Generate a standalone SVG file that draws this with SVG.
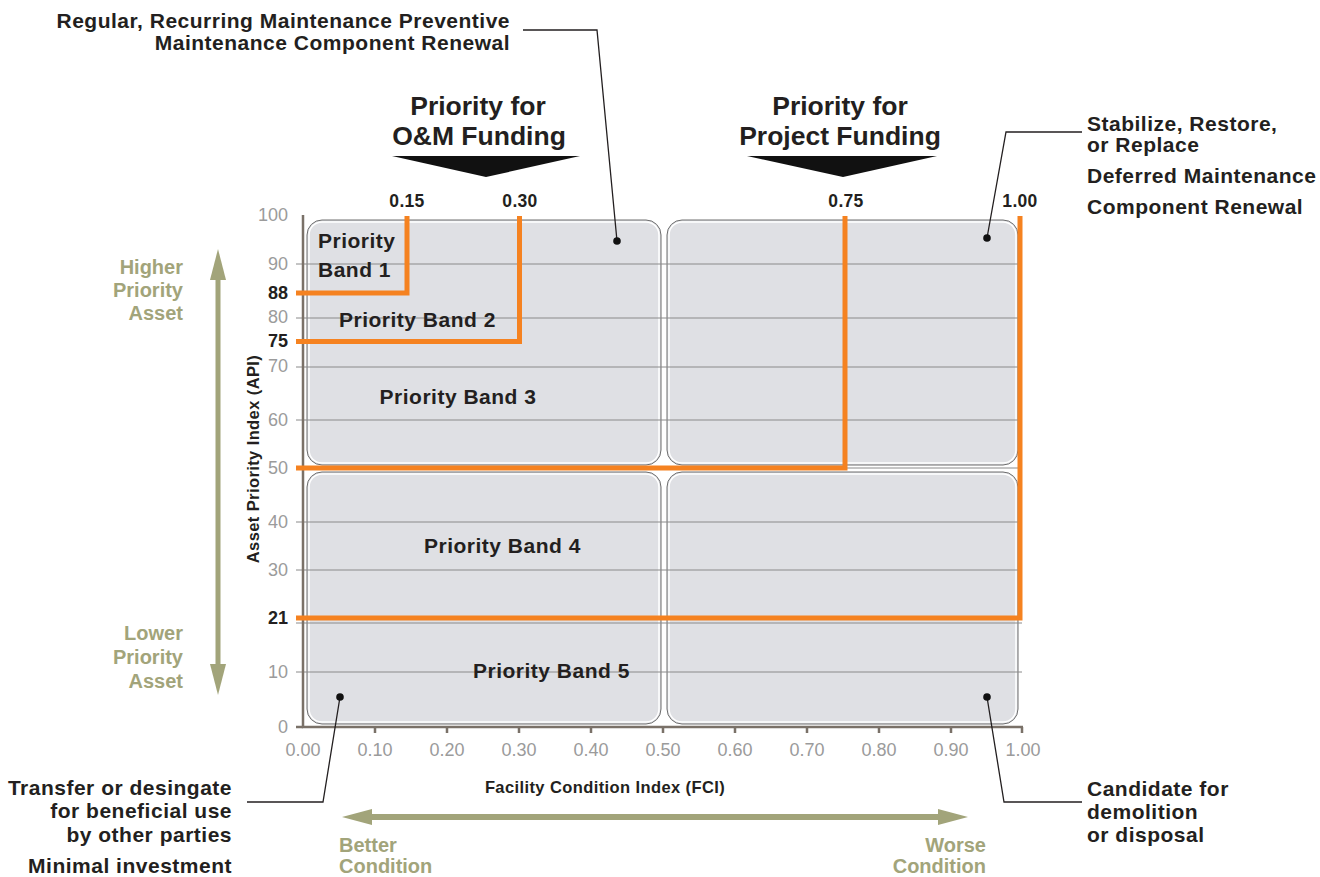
<svg xmlns="http://www.w3.org/2000/svg" width="1320" height="877" viewBox="0 0 1320 877">
<style>
text{font-family:"Liberation Sans",Arial,Helvetica,sans-serif}
.lbl{font-size:21px;font-weight:bold;fill:#231f20;letter-spacing:0.5px}
.head{font-size:26.5px;font-weight:bold;fill:#231f20;text-anchor:middle}
.grn{font-size:20px;font-weight:bold;fill:#a2a47a}
.tick{font-size:18px;fill:#9b9b9b;text-anchor:end}
.tickb{font-size:18px;font-weight:bold;fill:#231f20;text-anchor:end}
.xt{font-size:18px;fill:#9b9b9b;text-anchor:middle}
.top{font-size:17.5px;font-weight:bold;fill:#231f20;text-anchor:middle;letter-spacing:0.3px}
.ax{font-size:16.5px;font-weight:bold;fill:#231f20;letter-spacing:0.4px}
.panel{fill:#dfe0e4;stroke:#6e6e6e;stroke-width:1}
.pin{fill:none;stroke:#ffffff;stroke-width:1.5}
.grid{stroke:#8a8a8a;stroke-width:1;fill:none}
.org{stroke:#f58220;stroke-width:5;fill:none;stroke-linejoin:miter;stroke-linecap:butt}
.con{stroke:#231f20;stroke-width:1.3;fill:none}
.dot{fill:#111}
.axis{stroke:#7a7168;stroke-width:2.5;fill:none}
.green{fill:#a2a47a}
</style>

<g id="panels">
  <rect class="panel" x="307" y="220" width="354" height="245" rx="15"/>
  <rect class="pin" x="309" y="222" width="350" height="241" rx="13"/>
  <rect class="panel" x="667" y="220" width="351" height="245" rx="15"/>
  <rect class="pin" x="669" y="222" width="347" height="241" rx="13"/>
  <rect class="panel" x="307" y="472" width="354" height="252" rx="15"/>
  <rect class="pin" x="309" y="474" width="350" height="248" rx="13"/>
  <rect class="panel" x="667" y="472" width="351" height="252" rx="15"/>
  <rect class="pin" x="669" y="474" width="347" height="248" rx="13"/>
</g>

<g id="grid">
  <path class="grid" d="M296,264H1022M296,318H1022M296,367H1022M296,420H1022M296,468H1022M296,522H1022M296,570H1022M296,623H1022M296,672H1022"/>
</g>

<g id="axes">
  <path class="axis" d="M303,215V727H1023"/>
  <path class="axis" d="M296,727H303M375,727v6M447,727v6M519,727v6M591,727v6M663,727v6M735,727v6M807,727v6M879,727v6M951,727v6M1022,727v6" stroke-width="2"/>
</g>

<g id="priority-lines">
  <path class="org" d="M296,293H407V216"/>
  <path class="org" d="M296,341.5H519.5V216"/>
  <path class="org" d="M296,468H845V216"/>
  <path class="org" d="M296,618H1020V216"/>
</g>

<g id="y-labels">
  <text class="tick" x="288" y="221">100</text>
  <text class="tick" x="288" y="270">90</text>
  <text class="tickb" x="288" y="299">88</text>
  <text class="tick" x="288" y="323">80</text>
  <text class="tickb" x="288" y="347">75</text>
  <text class="tick" x="288" y="372">70</text>
  <text class="tick" x="288" y="426">60</text>
  <text class="tick" x="288" y="474">50</text>
  <text class="tick" x="288" y="528">40</text>
  <text class="tick" x="288" y="576">30</text>
  <text class="tickb" x="288" y="624">21</text>
  <text class="tick" x="288" y="678">10</text>
  <text class="tick" x="288" y="733">0</text>
</g>

<g id="x-labels">
  <text class="xt" x="303" y="756">0.00</text>
  <text class="xt" x="375" y="756">0.10</text>
  <text class="xt" x="447" y="756">0.20</text>
  <text class="xt" x="519" y="756">0.30</text>
  <text class="xt" x="591" y="756">0.40</text>
  <text class="xt" x="663" y="756">0.50</text>
  <text class="xt" x="735" y="756">0.60</text>
  <text class="xt" x="807" y="756">0.70</text>
  <text class="xt" x="879" y="756">0.80</text>
  <text class="xt" x="951" y="756">0.90</text>
  <text class="xt" x="1023" y="756">1.00</text>
</g>

<g id="top-values">
  <text class="top" x="407" y="207">0.15</text>
  <text class="top" x="520" y="207">0.30</text>
  <text class="top" x="846" y="207">0.75</text>
  <text class="top" x="1020" y="207">1.00</text>
</g>

<g id="axis-titles">
  <text class="ax" x="605" y="793" text-anchor="middle">Facility Condition Index (FCI)</text>
  <text class="ax" transform="translate(259,459) rotate(-90)" text-anchor="middle">Asset Priority Index (API)</text>
</g>

<g id="bands">
  <text class="lbl" x="318" y="248">Priority</text>
  <text class="lbl" x="318" y="277">Band 1</text>
  <text class="lbl" x="339" y="327">Priority Band 2</text>
  <text class="lbl" x="458" y="404" text-anchor="middle">Priority Band 3</text>
  <text class="lbl" x="424" y="553">Priority Band 4</text>
  <text class="lbl" x="473" y="678">Priority Band 5</text>
</g>

<g id="funding-om">
  <text class="head" x="478" y="115">Priority for</text>
  <text class="head" x="479" y="145">O&amp;M Funding</text>
  <polygon points="392,156 580,156 486,177" fill="#111"/>
</g>
<g id="funding-project">
  <text class="head" x="840" y="115">Priority for</text>
  <text class="head" x="840" y="145">Project Funding</text>
  <polygon points="747,156 937,156 843,177" fill="#111"/>
</g>

<g id="priority-arrow">
  <rect class="green" x="215.5" y="275" width="5" height="393"/>
  <polygon class="green" points="218,249 210,280 226,280"/>
  <polygon class="green" points="218,695 210,664 226,664"/>
  <text class="grn" x="183" y="274" text-anchor="end">Higher</text>
  <text class="grn" x="183" y="297" text-anchor="end">Priority</text>
  <text class="grn" x="183" y="320" text-anchor="end">Asset</text>
  <text class="grn" x="183" y="640" text-anchor="end">Lower</text>
  <text class="grn" x="183" y="664" text-anchor="end">Priority</text>
  <text class="grn" x="183" y="688" text-anchor="end">Asset</text>
</g>

<g id="condition-arrow">
  <rect class="green" x="370" y="814" width="570" height="6"/>
  <polygon class="green" points="342,817 372,809 372,825"/>
  <polygon class="green" points="968,817 938,809 938,825"/>
  <text class="grn" x="339" y="852">Better</text>
  <text class="grn" x="339" y="873">Condition</text>
  <text class="grn" x="986" y="852" text-anchor="end">Worse</text>
  <text class="grn" x="986" y="873" text-anchor="end">Condition</text>
</g>

<g id="note-om">
  <text class="lbl" x="510" y="28" text-anchor="end">Regular, Recurring Maintenance Preventive</text>
  <text class="lbl" x="510" y="50" text-anchor="end">Maintenance Component Renewal</text>
</g>
<g id="note-project">
  <text class="lbl" x="1087" y="131">Stabilize, Restore,</text>
  <text class="lbl" x="1087" y="152">or Replace</text>
  <text class="lbl" x="1087" y="183">Deferred Maintenance</text>
  <text class="lbl" x="1087" y="214">Component Renewal</text>
</g>
<g id="note-transfer">
  <text class="lbl" x="232" y="795" text-anchor="end">Transfer or desingate</text>
  <text class="lbl" x="232" y="818" text-anchor="end">for beneficial use</text>
  <text class="lbl" x="232" y="842" text-anchor="end">by other parties</text>
  <text class="lbl" x="232" y="873" text-anchor="end">Minimal investment</text>
</g>
<g id="note-demolition">
  <text class="lbl" x="1087" y="796">Candidate for</text>
  <text class="lbl" x="1087" y="819">demolition</text>
  <text class="lbl" x="1087" y="842">or disposal</text>
</g>

<g id="connectors">
  <path class="con" d="M523,30H597L617,241"/>
  <path class="con" d="M1082,132H1006L987,238"/>
  <path class="con" d="M247,802H323L340,697"/>
  <path class="con" d="M1082,802H1004L987,697"/>
  <circle class="dot" cx="617" cy="241" r="3.8"/>
  <circle class="dot" cx="987" cy="238" r="3.8"/>
  <circle class="dot" cx="340" cy="697" r="3.8"/>
  <circle class="dot" cx="987" cy="697" r="3.8"/>
</g>
</svg>
